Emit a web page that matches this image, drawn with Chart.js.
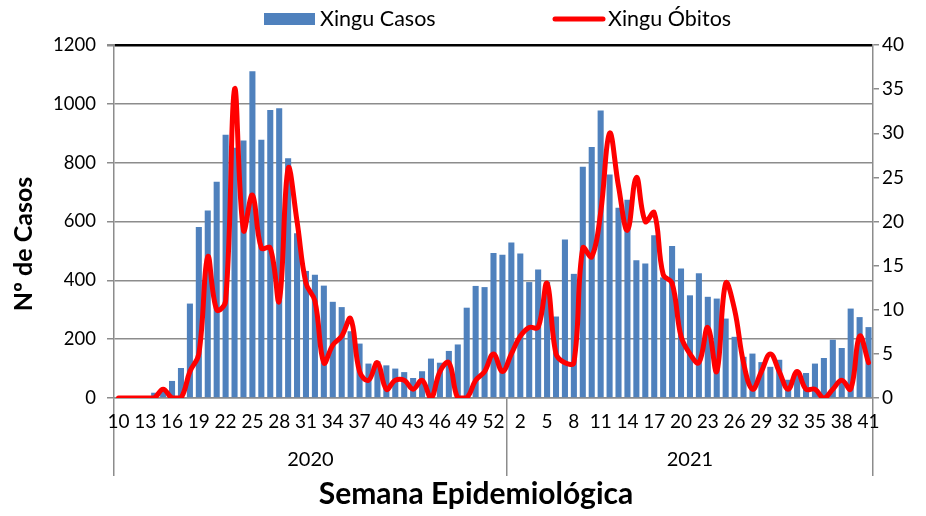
<!DOCTYPE html>
<html>
<head>
<meta charset="utf-8">
<script src="https://cdn.jsdelivr.net/npm/chart.js@4"></script>
<style>
  html, body { margin: 0; padding: 0; background: #fff; }
  canvas { display: block; }
</style>
</head>
<body>
<canvas id="chart" width="926" height="516"></canvas>
<script>
// semanas epidemiológicas
const semanas2020 = ['10','11','12','13','14','15','16','17','18','19','20','21','22','23','24','25','26','27','28','29','30','31',
  '32','33','34','35','36','37','38','39','40','41','42','43','44','45','46','47','48','49','50','51','52','53'];
const semanas2021 = ['1','2','3','4','5','6','7','8','9','10','11','12','13','14','15','16','17','18','19','20','21',
  '22','23','24','25','26','27','28','29','30','31','32','33','34','35','36','37','38','39','40','41'];
const anos = ['2020', '2021'];

const casos2020 = [0, 0, 0, 0, 18, 25, 58, 102, 321, 581, 637, 735, 895, 851, 875, 1111, 878, 979, 985, 815, 560, 432,
  419, 382, 327, 309, 227, 185, 117, 125, 111, 100, 88, 68, 91, 134, 120, 160, 182, 307, 381, 377, 493, 487];
const casos2021 = [529, 491, 394, 437, 395, 277, 539, 422, 786, 853, 977, 760, 647, 674, 468, 457, 553, 410, 517, 440, 349,
  424, 344, 338, 270, 208, 140, 151, 122, 106, 130, 62, 83, 85, 117, 136, 198, 170, 304, 275, 241];

const obitos2020 = [0, 0, 0, 0, 0, 1, 0, 0, 3, 5, 16, 10, 11, 35, 19, 23, 17, 17, 11, 26, 20, 13,
  11, 4, 6, 7, 9, 3, 2, 4, 1, 2, 2, 1, 2, 0, 3, 4, 0, 0, 2, 3, 5, 3];
const obitos2021 = [5, 7, 8, 8, 13, 5, 4, 4, 17, 16, 21, 30, 24, 19, 25, 20, 21, 14, 13, 7, 5,
  4, 8, 3, 13, 10, 4, 1, 3, 5, 3, 1, 3, 1, 1, 0, 1, 2, 1, 7, 4];

const labels = semanas2020.concat(semanas2021);
const casos = casos2020.concat(casos2021);
const obitos = obitos2020.concat(obitos2021);
const nTotal = labels.length;
const n2020 = semanas2020.length;

const FONT = 'Lato, "Open Sans", sans-serif';
const GRAY = '#8c8c8c';
const BLUE = '#4F81BD';
const RED = '#FF0000';

// legend and titles drawn as text on top
const decor = {
  id: 'decor',
  afterDraw(chart) {
    const ctx = chart.ctx;
    ctx.save();
    ctx.fillStyle = BLUE;
    ctx.fillRect(264, 13, 51, 12);
    ctx.strokeStyle = RED;
    ctx.lineWidth = 5;
    ctx.lineCap = 'round';
    ctx.beginPath();
    ctx.moveTo(555, 19);
    ctx.lineTo(603, 19);
    ctx.stroke();

    ctx.fillStyle = '#000';
    ctx.font = '21.5px ' + FONT;
    ctx.textBaseline = 'middle';
    ctx.textAlign = 'left';
    ctx.fillText(chart.data.datasets[1].label, 320, 19);
    ctx.fillText(chart.data.datasets[0].label, 608, 19);

    ctx.font = 'bold 30px ' + FONT;
    ctx.textAlign = 'center';
    ctx.fillText('Semana Epidemiológica', 476, 494);

    ctx.translate(24, 244);
    ctx.rotate(-Math.PI / 2);
    ctx.font = 'bold 25px ' + FONT;
    ctx.fillText('Nº de Casos', 0, 0);
    ctx.restore();
  }
};

new Chart(document.getElementById('chart'), {
  type: 'bar',
  data: {
    labels: labels,
    datasets: [
      {
        type: 'line',
        label: 'Xingu Óbitos',
        data: obitos,
        yAxisID: 'y1',
        borderColor: RED,
        borderWidth: 5,
        pointRadius: 0,
        tension: 0.4,
        borderJoinStyle: 'round',
        borderCapStyle: 'round',
        order: 0
      },
      {
        type: 'bar',
        label: 'Xingu Casos',
        data: casos,
        yAxisID: 'y',
        backgroundColor: BLUE,
        barPercentage: 0.68,
        categoryPercentage: 1.0,
        order: 1
      }
    ]
  },
  options: {
    responsive: false,
    animation: false,
    devicePixelRatio: 1,
    layout: { padding: { top: 45, left: 0, right: 0, bottom: 0 } },
    plugins: {
      legend: { display: false },
      tooltip: { enabled: false }
    },
    scales: {
      x: {
        type: 'category',
        position: 'bottom',
        weight: 0,
        afterFit: (s) => { s.height = 40; },
        border: { display: true, color: GRAY, width: 1.5 },
        grid: {
          drawOnChartArea: false,
          drawTicks: true,
          tickLength: 40,
          lineWidth: 1.5,
          color: (ctx) => (ctx.type === 'scale' || ctx.index === 0 || ctx.index === n2020) ? GRAY : 'rgba(0,0,0,0)'
        },
        ticks: {
          autoSkip: false,
          maxRotation: 0,
          minRotation: 0,
          padding: -28,
          color: '#000',
          font: { family: FONT, size: 19 },
          callback: function (value, index) {
            return index % 3 === 0 ? this.getLabelForValue(value) : '';
          }
        }
      },
      x2: {
        type: 'linear',
        position: 'bottom',
        weight: 1,
        min: 0,
        max: nTotal,
        offset: false,
        afterFit: (s) => { s.height = 78; },
        afterBuildTicks: (s) => {
          s.ticks = [0, n2020 / 2, n2020, (n2020 + nTotal) / 2, nTotal].map(v => ({ value: v }));
        },
        border: { display: false },
        grid: {
          offset: false,
          drawOnChartArea: false,
          drawTicks: true,
          tickLength: 38,
          lineWidth: 1.5,
          color: (ctx) => (ctx.tick && [0, n2020, nTotal].includes(ctx.tick.value)) ? GRAY : 'rgba(0,0,0,0)'
        },
        ticks: {
          autoSkip: false,
          maxRotation: 0,
          padding: -28,
          color: '#000',
          font: { family: FONT, size: 20 },
          callback: (value) => {
            if (value === n2020 / 2) return anos[0];
            if (value === (n2020 + nTotal) / 2) return anos[1];
            return '';
          }
        }
      },
      y: {
        position: 'left',
        min: 0,
        max: 1200,
        afterFit: (s) => { s.width = 114; },
        border: { display: true, color: GRAY, width: 1.5 },
        grid: {
          drawTicks: true,
          tickLength: 7,
          tickColor: GRAY,
          color: (ctx) => ctx.tick && ctx.tick.value === 1200 ? '#000' : GRAY,
          lineWidth: (ctx) => ctx.tick && ctx.tick.value === 1200 ? 2.5 : 1.5
        },
        ticks: {
          stepSize: 200,
          padding: 11,
          color: '#000',
          font: { family: FONT, size: 18.5 },
          callback: (value) => String(value)
        }
      },
      y1: {
        position: 'right',
        min: 0,
        max: 40,
        afterFit: (s) => { s.width = 53; },
        border: { display: true, color: GRAY, width: 1.5 },
        grid: {
          drawOnChartArea: false,
          drawTicks: true,
          tickLength: 6,
          color: GRAY,
          lineWidth: 1.5
        },
        ticks: {
          stepSize: 5,
          padding: 3,
          color: '#000',
          font: { family: FONT, size: 19 },
          callback: (value) => String(value)
        }
      }
    }
  },
  plugins: [decor]
});
</script>
</body>
</html>
